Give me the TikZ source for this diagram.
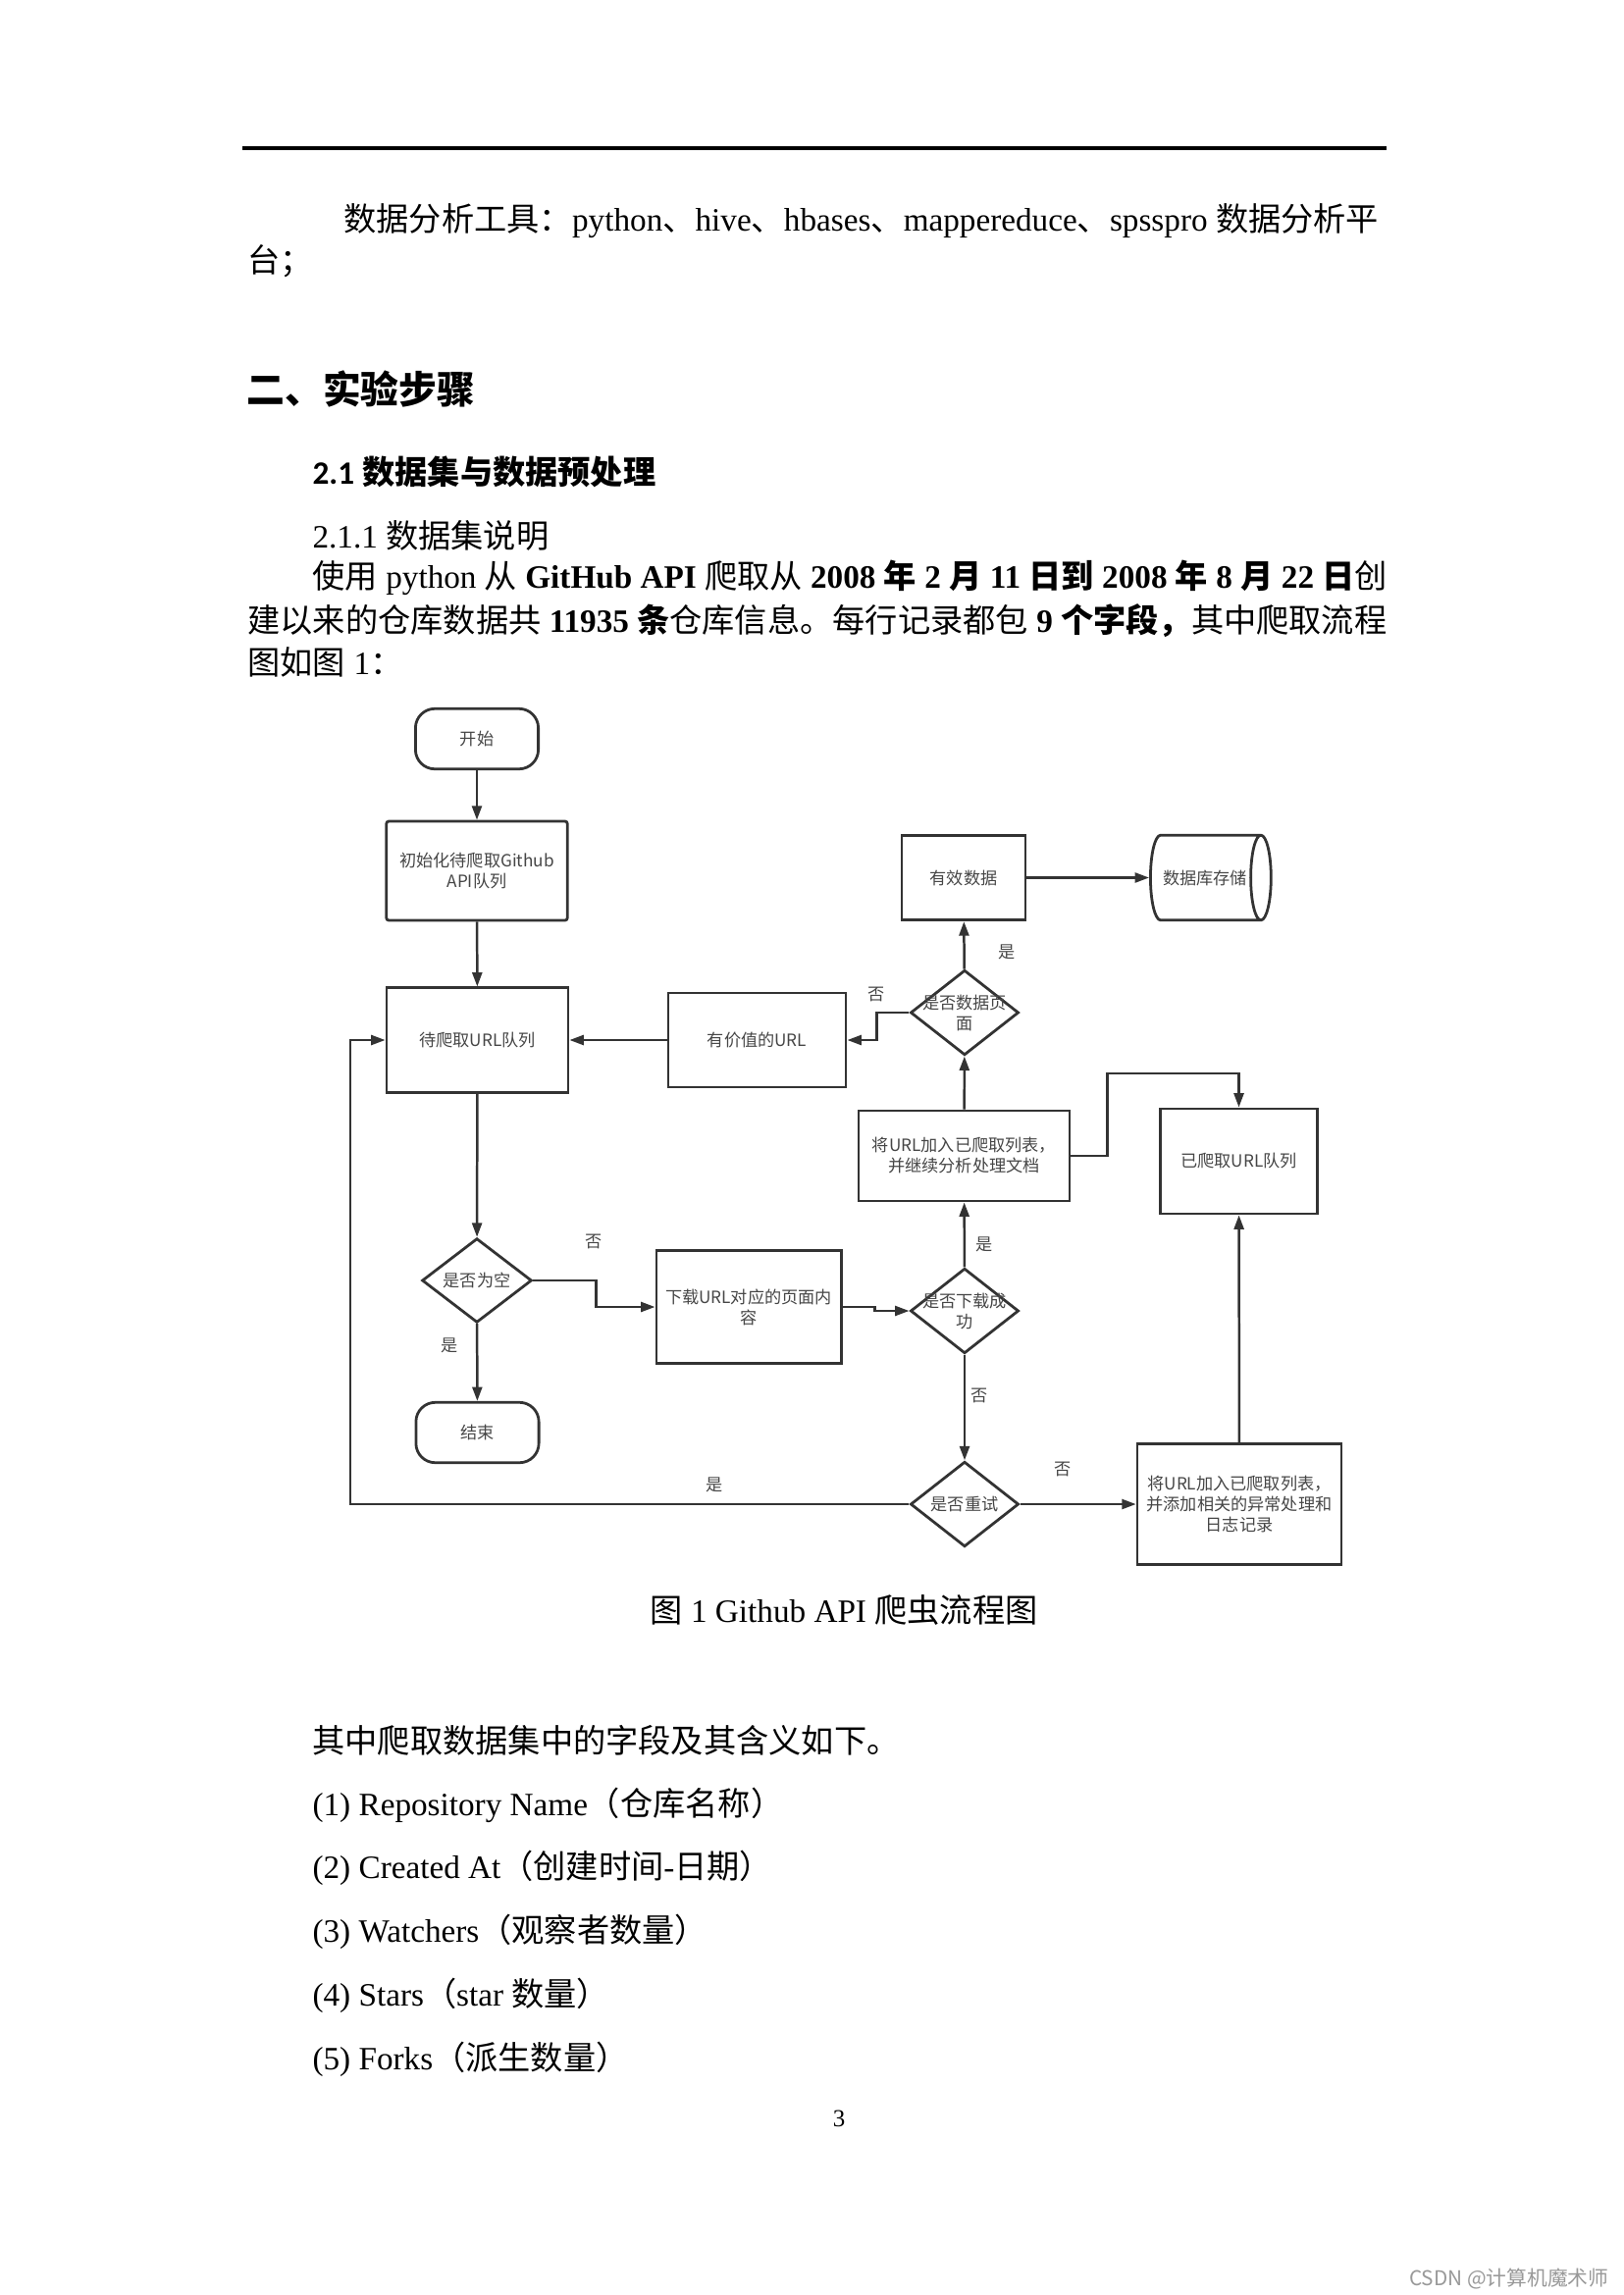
\documentclass[tikz,border=0pt]{standalone}
\usepackage{fontspec}
\setmainfont{Liberation Serif}
\setsansfont{Carlito}
\newfontfamily\cjkfont{Noto Sans CJK SC}
\usetikzlibrary{arrows.meta,shapes.geometric}
\definecolor{fcline}{RGB}{51,51,51}
\definecolor{fctext}{RGB}{70,70,70}
\newcommand{\CN}[1]{{\cjkfont #1}}
\newcommand{\flowfont}{\cjkfont\fontsize{6.2}{7.6}\selectfont}
\newcommand{\bodyfont}{\fontsize{12}{14}\selectfont}
\tikzset{
  box/.style={draw=fcline, line width=1pt, fill=white, font=\flowfont, text=fctext, align=center, inner sep=0pt},
  term/.style={box, rounded corners=2.5mm, minimum width=15.9mm, minimum height=7.8mm},
  decision/.style={box, diamond, minimum width=14mm, minimum height=11mm},
  store/.style={box, cylinder, shape border rotate=0, aspect=1.3},
  flow/.style={draw=fcline, line width=0.9pt, -{Triangle[length=5.2pt,width=3.6pt]}},
  lbl/.style={font=\flowfont, text=fctext, inner sep=0pt, align=center},
  body/.style={font=\bodyfont, inner sep=0pt, anchor=west}
}

\begin{document}
\begin{tikzpicture}[x=0.126965mm, y=-0.126965mm]
\path[fill=white, use as bounding box] (0,0) rectangle (1654,2339);

% header rule
\draw[line width=1.4pt] (247,151) -- (1413,151);

% text above the chart
\node[body] (tools) at (350,225) {\CN{数据分析工具：}python\CN{、}hive\CN{、}hbases\CN{、}mappereduce\CN{、}spsspro \CN{数据分析平}};
\node[body] (tools2) at (252,266) {\CN{台；}};
\node[body, font=\cjkfont\bfseries\fontsize{14}{16}\selectfont] (sec) at (251,396) {二、实验步骤};
\node[body] (subsec) at (318,481) {\textbf{\sffamily 2.1} \CN{\bfseries 数据集与数据预处理}};
\node[body] (subsub) at (318,546) {2.1.1 \CN{数据集说明}};
\node[body] (para1) at (318,589) {\CN{使用} python \CN{从} \textbf{GitHub API} \CN{爬取从} \textbf{2008 \CN{年} 2 \CN{月} 11 \CN{日到} 2008 \CN{年} 8 \CN{月} 22 \CN{日}}\CN{创}};
\node[body] (para2) at (252,633) {\CN{建以来的仓库数据共} \textbf{11935 \CN{条}}\CN{仓库信息。每行记录都包} \textbf{9 \CN{个字段，}}\CN{其中爬取流程}};
\node[body] (para3) at (252,675) {\CN{图如图} 1\CN{：}};

% flow chart
\node[term] (start) at (486,753) {开始};
\node[box, rounded corners=0.8pt, minimum width=23.4mm, minimum height=12.8mm] (init) at (486,887.5) {初始化待爬取Github\\API队列};
\node[box, minimum width=23.5mm, minimum height=13.5mm] (queue) at (486.5,1060) {待爬取URL队列};
\node[box, minimum width=23mm, minimum height=12.2mm] (valuable) at (771.5,1060) {有价值的URL};
\node[decision, label={[lbl]center:{是否数据页\\面}}] (isData) at (983,1032) {};
\node[box, minimum width=16mm, minimum height=11mm] (valid) at (982,894.5) {有效数据};
\node[store, minimum width=11mm, minimum height=15.6mm] (db) at (1228,894.5) {数据库存储};
\node[box, minimum width=27.3mm, minimum height=11.7mm] (process) at (982.5,1178) {将URL加入已爬取列表，\\并继续分析处理文档};
\node[box, minimum width=20.4mm, minimum height=13.6mm] (crawled) at (1262.5,1183.5) {已爬取URL队列};
\node[decision, minimum width=14.2mm, minimum height=10.9mm, label={[lbl]center:是否为空}] (isEmpty) at (486,1305) {};
\node[box, minimum width=23.9mm, minimum height=14.6mm] (download) at (763,1332) {下载URL对应的页面内\\容};
\node[decision, label={[lbl]center:{是否下载成\\功}}] (isOk) at (983,1336) {};
\node[term] (end) at (486.5,1460) {结束};
\node[decision, label={[lbl]center:是否重试}] (retry) at (983,1533) {};
\node[box, minimum width=26.4mm, minimum height=15.6mm] (failed) at (1263,1533) {将URL加入已爬取列表，\\并添加相关的异常处理和\\日志记录};
\coordinate (loop) at (357,1533);

% branch labels
\node[lbl] (yes1) at (1026,970) {是};
\node[lbl] (no1) at (893,1013) {否};
\node[lbl] (no2) at (605,1265) {否};
\node[lbl] (yes2) at (458,1371) {是};
\node[lbl] (yes3) at (1003,1268) {是};
\node[lbl] (no3) at (998,1422) {否};
\node[lbl] (no4) at (1083,1497) {否};
\node[lbl] (yes4) at (728,1513) {是};

\draw[flow] (start) -- (init);
\draw[flow] (init) -- (queue);
\draw[flow] (queue) -- (isEmpty);
\draw[flow] (isEmpty) -- (end);
\draw[flow] (isEmpty.east) -- ++(64,0) |- (download.west);
\draw[flow] (download.east) -- ++(33,0) |- (isOk.west);
\draw[flow] (isOk) -- (process);
\draw[flow] (isOk) -- (retry);
\draw[flow] (retry) -- (failed);
\draw[flow] (retry.west) -- (loop) |- (queue.west);
\draw[flow] (failed) -- (crawled);
\draw[flow] (process.east) -- ++(37,0) -- ++(0,-84) -| (crawled.north);
\draw[flow] (process) -- (isData);
\draw[flow] (isData) -- (valid);
\draw[flow] (isData.west) -- ++(-33,0) |- (valuable.east);
\draw[flow] (valuable) -- (queue);
\draw[flow] (valid) -- (db);

% text below the chart
\node[body, anchor=center] (caption) at (860,1641) {\CN{图} 1 Github API \CN{爬虫流程图}};
\node[body] (fields) at (318,1774) {\CN{其中爬取数据集中的字段及其含义如下。}};
\node[body] (f1) at (318,1840) {(1) Repository Name\CN{（仓库名称）}};
\node[body] (f2) at (318,1904) {(2) Created At\CN{（创建时间}-\CN{日期）}};
\node[body] (f3) at (318,1969) {(3) Watchers\CN{（观察者数量）}};
\node[body] (f4) at (318,2034) {(4) Stars\CN{（}star \CN{数量）}};
\node[body] (f5) at (318,2099) {(5) Forks\CN{（派生数量）}};
\node[body, anchor=center, font=\fontsize{9}{10}\selectfont] (pageno) at (855,2159) {3};
\node[anchor=east, font=\cjkfont\fontsize{7.5}{9}\selectfont, text=black!40, inner sep=0pt] (mark) at (1640,2322) {CSDN @计算机魔术师};
\end{tikzpicture}
\end{document}
